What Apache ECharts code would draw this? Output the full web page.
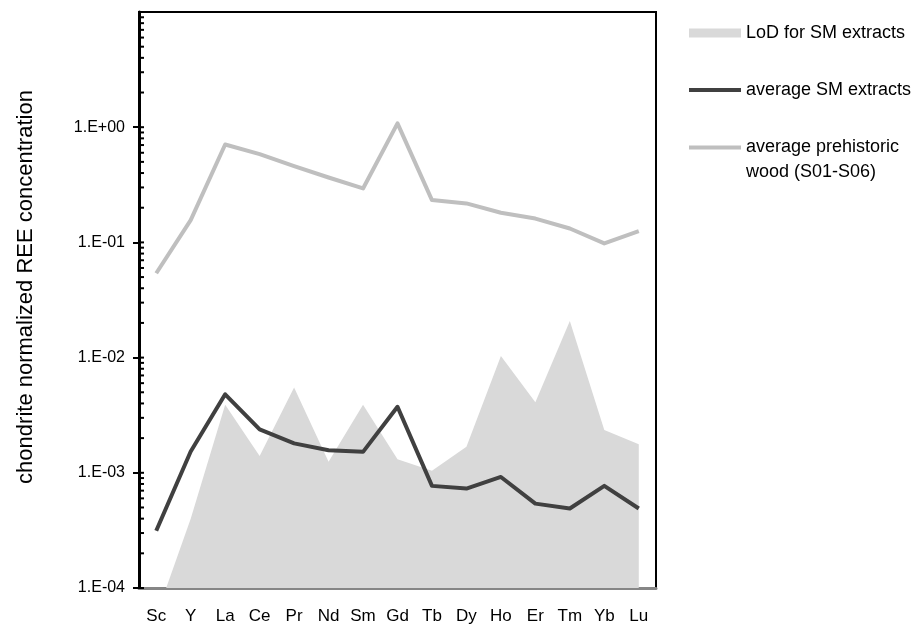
<!DOCTYPE html>
<html>
<head>
<meta charset="utf-8">
<script src="https://cdn.jsdelivr.net/npm/echarts@6/dist/echarts.min.js"></script>
<style>
  html, body { margin: 0; padding: 0; background: #fff; }
  #chart { width: 917px; height: 633px; }
</style>
</head>
<body>
<div id="chart"></div>
<script>
// Rare earth elements (plus Sc and Y), chondrite-normalized
const elements = ['Sc', 'Y', 'La', 'Ce', 'Pr', 'Nd', 'Sm', 'Gd', 'Tb', 'Dy', 'Ho', 'Er', 'Tm', 'Yb', 'Lu'];

// Limit of detection for SM extracts (filled area)
const lodSM = [5.7e-5, 4.0e-4, 3.9e-3, 1.4e-3, 5.5e-3, 1.25e-3, 3.9e-3, 1.31e-3, 1.04e-3, 1.68e-3, 1.03e-2, 4.1e-3, 2.08e-2, 2.35e-3, 1.77e-3];

// Average SM extracts
const avgSM = [3.14e-4, 1.53e-3, 4.8e-3, 2.38e-3, 1.8e-3, 1.57e-3, 1.52e-3, 3.74e-3, 7.7e-4, 7.3e-4, 9.2e-4, 5.4e-4, 4.9e-4, 7.7e-4, 4.9e-4];

// Average prehistoric wood (S01-S06)
const avgWood = [5.4e-2, 0.156, 0.708, 0.583, 0.459, 0.366, 0.294, 1.08, 0.233, 0.218, 0.181, 0.161, 0.132, 0.098, 0.125];

// Decade range of the log axis
const yMin = 1e-4;
const yMax = 10;

const FONT = 'Liberation Sans';

// Inner axis ticks: short inside marks at every decade and at 2..9 within each decade
const innerTicks = [];
for (let e = -4; e < 1; e++) {
  for (let m = 1; m <= 9; m++) {
    innerTicks.push([0, +(m * Math.pow(10, e)).toPrecision(3)]);
  }
}
innerTicks.push([0, 10]);

function expLabel(v) {
  const e = Math.round(Math.log10(v));
  const a = Math.abs(e);
  return '1.E' + (e < 0 ? '-' : '+') + (a < 10 ? '0' : '') + a;
}

// Legend line marker whose bar sits at the top of a taller box,
// so a two-line label lines up with its first line.
const topBarIcon = 'path://M0,0L52,0L52,4L0,4Z M0,29';

const chart = echarts.init(document.getElementById('chart'), null, { renderer: 'canvas' });

chart.setOption({
  animation: false,
  backgroundColor: '#fff',
  textStyle: { fontFamily: FONT },
  grid: {
    left: 139, right: 261, top: 12, bottom: 45,
    show: true, borderColor: '#000', borderWidth: 2, backgroundColor: 'transparent'
  },
  legend: [
    {
      data: [{ name: 'LoD for SM extracts', icon: 'rect', itemStyle: { color: '#d9d9d9' } }],
      left: 684, top: 19, orient: 'vertical',
      itemWidth: 52, itemHeight: 9,
      textStyle: { fontFamily: FONT, fontSize: 18, color: '#000' },
      selectedMode: false
    },
    {
      data: [{ name: 'average SM extracts', icon: 'rect', itemStyle: { color: '#404040' } }],
      left: 684, top: 76, orient: 'vertical',
      itemWidth: 52, itemHeight: 4,
      textStyle: { fontFamily: FONT, fontSize: 18, color: '#000' },
      selectedMode: false
    },
    {
      data: [{ name: 'average prehistoric wood (S01-S06)', icon: topBarIcon, itemStyle: { color: '#bfbfbf' } }],
      left: 684, top: 130, orient: 'vertical',
      itemWidth: 52, itemHeight: 29,
      formatter: () => 'average prehistoric\nwood (S01-S06)',
      textStyle: { fontFamily: FONT, fontSize: 18, color: '#000', lineHeight: 25 },
      selectedMode: false
    }
  ],
  xAxis: {
    type: 'category',
    data: elements,
    boundaryGap: true,
    axisLine: { show: true, lineStyle: { color: '#868686', width: 3 } },
    axisTick: { show: false },
    axisLabel: { fontFamily: FONT, fontSize: 17, color: '#000', margin: 20 },
    splitLine: { show: false }
  },
  yAxis: {
    type: 'log',
    logBase: 10,
    min: yMin,
    max: yMax,
    splitNumber: 5,
    name: 'chondrite normalized REE concentration',
    nameLocation: 'middle',
    nameRotate: 90,
    nameGap: 102,
    nameTextStyle: { fontFamily: FONT, fontSize: 22, color: '#000', padding: [0, 0, 0, 26] },
    axisLine: { show: true, lineStyle: { color: '#000', width: 3 } },
    axisTick: { show: true, length: 6, lineStyle: { color: '#000', width: 2 } },
    axisLabel: {
      fontFamily: FONT, fontSize: 16, color: '#000', margin: 14,
      showMaxLabel: false,
      formatter: expLabel
    },
    splitLine: { show: false },
    minorSplitLine: { show: false }
  },
  series: [
    {
      name: 'LoD for SM extracts',
      type: 'line',
      data: lodSM,
      showSymbol: false,
      symbol: 'none',
      lineStyle: { width: 0, color: '#d9d9d9' },
      itemStyle: { color: '#d9d9d9' },
      areaStyle: { color: '#d9d9d9', opacity: 1 },
      z: 1
    },
    {
      name: 'average SM extracts',
      type: 'line',
      data: avgSM,
      symbol: 'none',
      lineStyle: { width: 4, color: '#404040', join: 'round' },
      itemStyle: { color: '#404040' },
      z: 3
    },
    {
      name: 'average prehistoric wood (S01-S06)',
      type: 'line',
      data: avgWood,
      symbol: 'none',
      lineStyle: { width: 4, color: '#bfbfbf', join: 'round' },
      itemStyle: { color: '#bfbfbf' },
      z: 3
    },
    {
      // short inside marks along the value axis
      type: 'custom',
      silent: true,
      clip: false,
      z: 5,
      data: innerTicks,
      encode: { x: 0, y: 1 },
      renderItem: function (params, api) {
        const y = api.coord([0, api.value(1)])[1];
        const x0 = params.coordSys.x;
        return {
          type: 'line',
          shape: { x1: x0, y1: y, x2: x0 + 5, y2: y },
          style: { stroke: '#000', lineWidth: 2 }
        };
      }
    }
  ]
});
</script>
</body>
</html>
